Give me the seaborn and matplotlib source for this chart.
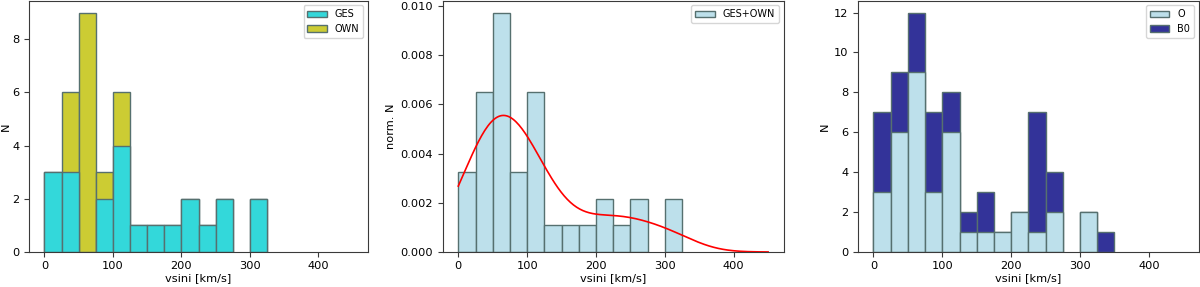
import numpy as np
import pandas as pd
import matplotlib
matplotlib.use("Agg")
import matplotlib.pyplot as plt
import seaborn as sns
from matplotlib.patches import Patch, Rectangle

# vsini values (km/s), estimated from the histograms
ges = [5, 12, 20, 30, 38, 45, 80, 95, 102, 108, 115, 120, 135, 160, 190,
       205, 215, 240, 255, 265, 305, 315]
own = [28, 35, 45, 52, 55, 58, 60, 63, 66, 68, 70, 72, 85, 105, 112]
o_type = ges + own
b0_type = [4, 10, 16, 22, 30, 38, 45, 55, 62, 70, 78, 84, 90, 96, 105, 115,
           140, 155, 165, 228, 232, 237, 240, 244, 248, 255, 265, 335]

bin_edges = list(range(0, 451, 25))
xticks = [0, 100, 200, 300, 400]

col_ges = "#33d8da"
col_own = "#cccc33"
col_lb = "#bde0eb"
col_navy = "#333399"
edge = "#56706f"

plt.rcParams['font.family'] = ['DejaVu Sans']
plt.rcParams['font.size'] = 8.2
plt.rcParams['axes.edgecolor'] = '#3a3a3a'
plt.rcParams['xtick.color'] = '#3a3a3a'
plt.rcParams['ytick.color'] = '#3a3a3a'
plt.rcParams['xtick.labelcolor'] = 'black'
plt.rcParams['ytick.labelcolor'] = 'black'
plt.rcParams['xtick.major.pad'] = 2.8
plt.rcParams['axes.labelpad'] = 1.5

fig = plt.figure(figsize=(12, 2.87), dpi=100)
ax1 = fig.add_axes([0.0242, 0.122, 0.2825, 0.876])
ax2 = fig.add_axes([0.369, 0.122, 0.284, 0.876])
ax3 = fig.add_axes([0.715, 0.122, 0.284, 0.876])

# Panel 1: stacked GES (bottom) + OWN (top)
sns.histplot(x=ges + own, bins=bin_edges, color=col_own, alpha=1,
             edgecolor=edge, linewidth=1, ax=ax1)
sns.histplot(x=ges, bins=bin_edges, color=col_ges, alpha=1,
             edgecolor=edge, linewidth=1, ax=ax1)
ax1.set_xlabel("vsini [km/s]")
ax1.set_ylabel("N")
ax1.set_xticks(xticks)
ax1.legend(handles=[Patch(facecolor=col_ges, edgecolor=edge, label="GES"),
                    Patch(facecolor=col_own, edgecolor=edge, label="OWN")],
           loc="upper right", fontsize=7)

# Panel 2: normalised combined + KDE
comb = ges + own
sns.histplot(x=comb, bins=bin_edges, stat="density", color=col_lb, alpha=1,
             edgecolor=edge, linewidth=1, ax=ax2)
sns.kdeplot(x=comb, clip=(0, 450), cut=20, color="red", linewidth=1.2, ax=ax2)
ax2.set_xlabel("vsini [km/s]")
ax2.set_ylabel("norm. N")
ax2.set_xticks(xticks)
ax2.legend(handles=[Patch(facecolor=col_lb, edgecolor=edge, label="GES+OWN")],
           loc="upper right", fontsize=7)

# Panel 3: O (bottom) + B0 (top)
sns.histplot(x=o_type + b0_type, bins=bin_edges, color=col_navy, alpha=1,
             edgecolor=edge, linewidth=1, ax=ax3)
sns.histplot(x=o_type, bins=bin_edges, color=col_lb, alpha=1,
             edgecolor=edge, linewidth=1, ax=ax3)
ax3.set_xlabel("vsini [km/s]")
ax3.set_ylabel("N")
ax3.set_xticks(xticks)
ax3.legend(handles=[Patch(facecolor=col_lb, edgecolor=edge, label="O"),
                    Patch(facecolor=col_navy, edgecolor=edge, label="B0")],
           loc="upper right", fontsize=7)

for ax in (ax1, ax2, ax3):
    ax.set_xlim(-22.5, 472.5)
    for p in ax.patches:
        if isinstance(p, Rectangle) and p.get_height() == 0:
            p.set_visible(False)

ax1.yaxis.labelpad = 0.5
ax2.yaxis.labelpad = 3
ax3.yaxis.labelpad = 3

fig.savefig("out.png", dpi=100)
